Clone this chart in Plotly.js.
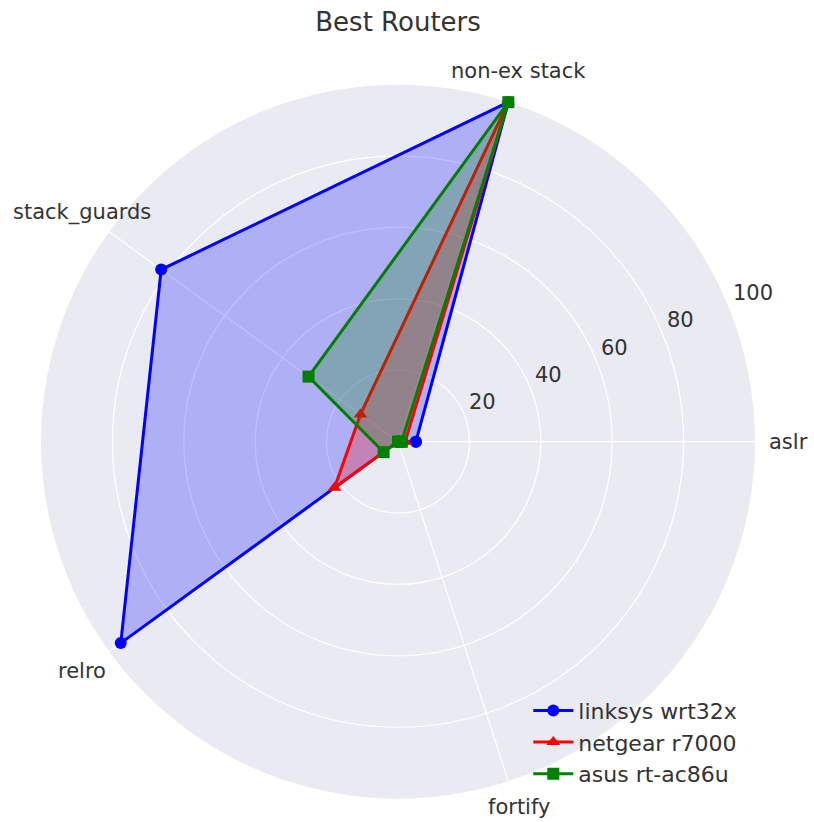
<!DOCTYPE html>
<html>
<head>
<meta charset="utf-8">
<script src="https://cdn.plot.ly/plotly-3.0.1.min.js"></script>
<style>html,body{margin:0;padding:0;background:#fff;}#chart{width:814px;height:822px;}</style>
</head>
<body>
<div id="chart"></div>
<script>
const categories = ["aslr", "non-ex stack", "stack_guards", "relro", "fortify"];
const seriesNames = ["linksys wrt32x", "netgear r7000", "asus rt-ac86u"];
const linksysValues = [5, 100, 82, 96, 0];
const netgearValues = [2, 100, 13, 22, 0];
const asusValues = [1, 100, 31, 5, 0];
const radialTicks = [20, 40, 60, 80, 100];

const W = 814, H = 822;
const seriesValues = [linksysValues, netgearValues, asusValues];
const lineColors = ["#0000ff", "#ff0000", "#008000"];
const fillColors = ["rgba(0,0,255,0.25)", "rgba(255,0,0,0.25)", "rgba(0,128,0,0.25)"];
const markerSymbols = ["circle", "triangle-up", "square"];
const textColor = "#333333";
const polarDomain = {x: [0.0504, 0.9275], y: [0.0284, 0.897]};
const rMax = 100;
const radialLabelAngle = 22.5;
const labelFont = 21;

const traces = [];
seriesValues.forEach((vals, i) => {
  const r = vals.concat([vals[0]]);
  const theta = categories.concat([categories[0]]);
  traces.push({
    type: "scatterpolar", mode: "none", r: r, theta: theta,
    fill: "toself", fillcolor: fillColors[i],
    showlegend: false, hoverinfo: "skip"
  });
  traces.push({
    type: "scatterpolar", mode: "lines+markers", name: seriesNames[i],
    r: r, theta: theta,
    line: {color: lineColors[i], width: 3},
    marker: {color: lineColors[i], symbol: markerSymbols[i], size: 12},
    hoverinfo: "skip"
  });
});

// geometry of the polar area in pixels (derived from its domain)
const cx = (polarDomain.x[0] + polarDomain.x[1]) / 2 * W;
const cy = (1 - (polarDomain.y[0] + polarDomain.y[1]) / 2) * H;
const R = Math.min((polarDomain.x[1] - polarDomain.x[0]) * W, (polarDomain.y[1] - polarDomain.y[0]) * H) / 2;
const toPaper = (px, py) => ({x: px / W, y: 1 - py / H});

const annotations = [];
// angular labels, centred as in the reference (kept inside the page)
categories.forEach((c, i) => {
  const a = 2 * Math.PI * i / categories.length;
  const px = cx + R * 1.093 * Math.cos(a);
  const py = Math.min(cy - R * 1.093 * Math.sin(a), H - 15);
  const p = toPaper(px, py);
  annotations.push({
    text: c, xref: "paper", yref: "paper", x: p.x, y: p.y,
    xanchor: "center", yanchor: "middle", showarrow: false,
    font: {size: labelFont, color: textColor}
  });
});
// radial labels along the 22.5 degree ray, anchored left-bottom
radialTicks.forEach(v => {
  const a = radialLabelAngle * Math.PI / 180;
  const rr = v / rMax * R;
  const p = toPaper(cx + rr * Math.cos(a) + 3, cy - rr * Math.sin(a) + 2);
  annotations.push({
    text: String(v), xref: "paper", yref: "paper", x: p.x, y: p.y,
    xanchor: "left", yanchor: "bottom", showarrow: false,
    font: {size: labelFont, color: textColor}
  });
});

const layout = {
  width: W,
  height: H,
  margin: {l: 0, r: 0, t: 0, b: 0},
  paper_bgcolor: "#ffffff",
  font: {family: "DejaVu Sans, sans-serif", color: textColor, size: 20},
  title: {
    text: "Best Routers",
    x: 0.489, xanchor: "center",
    y: 0.973, yanchor: "middle",
    font: {family: "DejaVu Sans, sans-serif", size: 26, color: textColor}
  },
  showlegend: true,
  legend: {
    x: 0.649, xanchor: "left",
    y: 0.161, yanchor: "top",
    bgcolor: "rgba(0,0,0,0)",
    font: {size: 22, color: textColor},
    tracegroupgap: 0,
    itemwidth: 40
  },
  annotations: annotations,
  polar: {
    domain: polarDomain,
    bgcolor: "#EAEAF2",
    angularaxis: {
      type: "category",
      categoryarray: categories,
      rotation: 0,
      direction: "counterclockwise",
      showline: false,
      showticklabels: false,
      gridcolor: "#ffffff",
      gridwidth: 1.2,
      ticks: ""
    },
    radialaxis: {
      range: [0, rMax],
      tickvals: radialTicks,
      angle: radialLabelAngle,
      showticklabels: false,
      showline: false,
      ticks: "",
      gridcolor: "#ffffff",
      gridwidth: 1.2
    }
  }
};

Plotly.newPlot("chart", traces, layout, {displayModeBar: false, staticPlot: true});
</script>
</body>
</html>
